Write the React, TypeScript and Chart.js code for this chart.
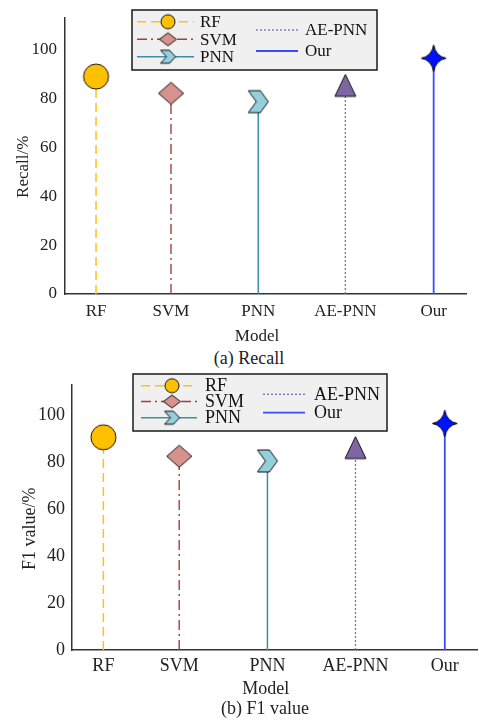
import React, { useEffect, useRef } from "react";
import { Chart, registerables } from "chart.js";

Chart.register(...registerables);

// ---------- data ----------
const models = ["RF", "SVM", "PNN", "AE-PNN", "Our"];
const modelX = [0.356, 1.216, 2.217, 3.216, 4.229];
const recall = [89.1, 82.2, 78.8, 85.5, 96.6];
const f1Value = [90.7, 82.6, 80.6, 86.3, 96.6];
const yTicks = [0, 20, 40, 60, 80, 100];
const X_MIN = 0;
const X_MAX = 4.6;
const Y_MIN = 0;
const Y_MAX = 113;

// ---------- styles ----------
const SERIF = '"Liberation Serif", "Times New Roman", serif';
const INK = "#222222";
const NB = "\u00A0";

type MarkerKind = "circle" | "diamond" | "chevron" | "triangle" | "star4";

const STYLES: {
  line: string; dash: number[]; width: number; marker: MarkerKind; fill: string;
  mw: number; mh: number; lw: number; lh: number;
}[] = [
  { line: "#FFC20E", dash: [9, 5], width: 1.5, marker: "circle", fill: "#FFC000", mw: 25, mh: 25, lw: 14, lh: 14 },
  { line: "#A33F3B", dash: [10, 4, 2, 4], width: 1.4, marker: "diamond", fill: "#D8928E", mw: 25, mh: 22, lw: 17, lh: 13 },
  { line: "#3E8FA3", dash: [], width: 1.5, marker: "chevron", fill: "#94D0DC", mw: 20, mh: 22, lw: 15, lh: 13 },
  { line: "#7B6BB5", dash: [2, 2], width: 1.3, marker: "triangle", fill: "#7D66A3", mw: 21, mh: 22, lw: 0, lh: 0 },
  { line: "#3B4BFF", dash: [], width: 1.8, marker: "star4", fill: "#0011FF", mw: 25, mh: 27, lw: 0, lh: 0 },
];

function makeMarker(kind: MarkerKind, w: number, h: number, fill: string): HTMLCanvasElement {
  const pad = 2;
  const c = document.createElement("canvas");
  c.width = Math.ceil(w + pad * 2);
  c.height = Math.ceil(h + pad * 2);
  const ctx = c.getContext("2d")!;
  const cx = c.width / 2;
  const cy = c.height / 2;
  const rx = w / 2;
  const ry = h / 2;
  const P = (px: number, py: number) => [cx + px * rx, cy + py * ry] as [number, number];
  ctx.beginPath();
  const poly = (pts: [number, number][]) => {
    pts.forEach(([px, py], i) => {
      const [X, Y] = P(px, py);
      if (i === 0) ctx.moveTo(X, Y);
      else ctx.lineTo(X, Y);
    });
    ctx.closePath();
  };
  switch (kind) {
    case "circle":
      ctx.ellipse(cx, cy, rx, ry, 0, 0, Math.PI * 2);
      break;
    case "diamond":
      poly([[-1, 0], [0, -1], [1, 0], [0, 1]]);
      break;
    case "chevron":
      poly([[-1, -1], [0.2, -1], [1, 0], [0.2, 1], [-1, 1], [-0.2, 0]]);
      break;
    case "triangle":
      poly([[0, -1], [1, 1], [-1, 1]]);
      break;
    case "star4": {
      const k = 0.15;
      const [tx, ty] = P(0, -1);
      ctx.moveTo(tx, ty);
      const seq: [number, number, number, number][] = [
        [k, -k, 1, 0],
        [k, k, 0, 1],
        [-k, k, -1, 0],
        [-k, -k, 0, -1],
      ];
      seq.forEach(([qx, qy, ex, ey]) => {
        const [QX, QY] = P(qx, qy);
        const [EX, EY] = P(ex, ey);
        ctx.quadraticCurveTo(QX, QY, EX, EY);
      });
      ctx.closePath();
      break;
    }
  }
  ctx.fillStyle = fill;
  ctx.fill();
  ctx.lineWidth = 1;
  ctx.strokeStyle = "#111111";
  ctx.lineJoin = "miter";
  ctx.stroke();
  return c;
}

type LegendLayout = {
  box: { x: number; y: number; w: number; h: number };
  col1: { x1: number; x2: number; mx: number; tx: number; rows: number[] };
  col2: { x1: number; x2: number; mx: number; tx: number; rows: number[] };
};

function legendPlugin(L: LegendLayout, fs: number) {
  return {
    id: "stemLegend",
    afterDraw(chart: any) {
      const ctx: CanvasRenderingContext2D = chart.ctx;
      ctx.save();
      ctx.fillStyle = "#F0F0F0";
      ctx.fillRect(L.box.x, L.box.y, L.box.w, L.box.h);
      ctx.lineWidth = 1.5;
      ctx.strokeStyle = "#1a1a1a";
      ctx.strokeRect(L.box.x, L.box.y, L.box.w, L.box.h);
      chart.data.datasets.forEach((ds: any, i: number) => {
        const col = i < 3 ? L.col1 : L.col2;
        const y = col.rows[i < 3 ? i : i - 3];
        ctx.setLineDash(ds.borderDash || []);
        ctx.strokeStyle = ds.borderColor;
        ctx.lineWidth = ds.borderWidth;
        ctx.beginPath();
        ctx.moveTo(col.x1, y);
        ctx.lineTo(col.x2, y);
        ctx.stroke();
        ctx.setLineDash([]);
        const m: HTMLCanvasElement | null = ds.legendMarker;
        if (m) ctx.drawImage(m, col.mx - m.width / 2, y - m.height / 2);
        ctx.fillStyle = "#111111";
        ctx.font = `${fs}px ${SERIF}`;
        ctx.textBaseline = "middle";
        ctx.textAlign = "left";
        ctx.fillText(ds.label, col.tx, y + 1);
      });
      ctx.restore();
    },
  };
}

type Panel = {
  values: number[]; yTitle: string; caption: string; top: number; width: number; height: number;
  fs: number; padTop: number; padRight: number; yAxisW: number; xAxisH: number;
  yTickPad: number; xTickPad: number; yTitlePadTop: number; xTitlePadBottom: number;
  legend: LegendLayout; captionX: number; captionTop: number; captionFs: number;
};

const PANELS: Panel[] = [
  {
    values: recall, yTitle: "Recall/%" + NB.repeat(5), caption: "(a) Recall",
    top: 0, width: 479, height: 348, fs: 17, padTop: 15, padRight: 13, yAxisW: 65, xAxisH: 54,
    yTickPad: 8, xTickPad: 7, yTitlePadTop: 13, xTitlePadBottom: 1.3,
    legend: {
      box: { x: 132, y: 10, w: 245, h: 60 },
      col1: { x1: 137, x2: 194, mx: 168, tx: 200, rows: [21.7, 39.3, 56.7] },
      col2: { x1: 256, x2: 298, mx: 277, tx: 305, rows: [30, 51] },
    },
    captionX: 249, captionTop: 349.2, captionFs: 18,
  },
  {
    values: f1Value, yTitle: "F1 value/%" + NB.repeat(5), caption: "(b) F1 value",
    top: 360, width: 490, height: 342, fs: 18, padTop: 25, padRight: 5, yAxisW: 72, xAxisH: 52,
    yTickPad: 7, xTickPad: 5, yTitlePadTop: 19, xTitlePadBottom: 2.3,
    legend: {
      box: { x: 133, y: 14, w: 254, h: 57 },
      col1: { x1: 141, x2: 197, mx: 172, tx: 205, rows: [25.7, 41.5, 57.7] },
      col2: { x1: 263, x2: 305, mx: 284, tx: 314, rows: [34.3, 52.7] },
    },
    captionX: 265, captionTop: 699.2, captionFs: 18,
  },
];

function StemPanel({ panel }: { panel: Panel }) {
  const ref = useRef<HTMLCanvasElement>(null);
  useEffect(() => {
    const canvas = ref.current!;
    const datasets = models.map((name, i) => {
      const st = STYLES[i];
      const marker = makeMarker(st.marker, st.mw, st.mh, st.fill);
      const legendMarker = st.lw ? makeMarker(st.marker, st.lw, st.lh, st.fill) : null;
      return {
        label: name,
        data: [
          { x: modelX[i], y: 0 },
          { x: modelX[i], y: panel.values[i] },
        ],
        borderColor: st.line,
        borderWidth: st.width,
        borderDash: st.dash,
        pointStyle: marker,
        pointRadius: [0, st.mw / 2],
        pointHoverRadius: [0, st.mw / 2],
        pointBorderWidth: 0,
        fill: false,
        tension: 0,
        clip: false as any,
        legendMarker,
      };
    });
    const font = { family: SERIF, size: panel.fs, lineHeight: 1.2 };
    const chart = new Chart(canvas, {
      type: "line",
      data: { datasets: datasets as any },
      options: {
        responsive: false,
        animation: false,
        events: [],
        layout: { padding: { top: panel.padTop, right: panel.padRight, left: 0, bottom: 0 } },
        plugins: { legend: { display: false }, tooltip: { enabled: false } },
        scales: {
          x: {
            type: "linear",
            min: X_MIN,
            max: X_MAX,
            grid: { display: false, drawTicks: false },
            border: { display: true, color: "#333333", width: 1.5 },
            afterBuildTicks: (s: any) => {
              s.ticks = modelX.map((v) => ({ value: v }));
            },
            afterFit: (s: any) => {
              s.height = panel.xAxisH;
            },
            ticks: {
              autoSkip: false,
              maxRotation: 0,
              padding: panel.xTickPad,
              color: INK,
              font,
              callback: (_v: any, i: number) => models[i],
            },
            title: {
              display: true,
              text: "Model" + NB.repeat(4),
              color: INK,
              font,
              padding: { top: 0, bottom: panel.xTitlePadBottom },
            },
          },
          y: {
            type: "linear",
            min: Y_MIN,
            max: Y_MAX,
            grid: { display: false, drawTicks: false },
            border: { display: true, color: "#333333", width: 1.5 },
            afterBuildTicks: (s: any) => {
              s.ticks = yTicks.map((v) => ({ value: v }));
            },
            afterFit: (s: any) => {
              s.width = panel.yAxisW;
            },
            ticks: { padding: panel.yTickPad, color: INK, font },
            title: {
              display: true,
              text: panel.yTitle,
              color: INK,
              font,
              padding: { top: panel.yTitlePadTop, bottom: 0 },
            },
          },
        },
      } as any,
      plugins: [legendPlugin(panel.legend, panel.fs) as any],
    });
    return () => chart.destroy();
  }, [panel]);
  return (
    <>
      <canvas
        ref={ref}
        width={panel.width}
        height={panel.height}
        style={{ position: "absolute", left: 0, top: panel.top, width: panel.width, height: panel.height, display: "block" }}
      />
      <div
        style={{
          position: "absolute",
          left: panel.captionX - 150,
          width: 300,
          top: panel.captionTop,
          textAlign: "center",
          fontFamily: SERIF,
          fontSize: panel.captionFs,
          lineHeight: `${panel.captionFs}px`,
          color: INK,
          whiteSpace: "nowrap",
        }}
      >
        {panel.caption}
      </div>
    </>
  );
}

export default function App() {
  return (
    <div
      style={{
        position: "fixed",
        left: 0,
        top: 0,
        width: 479,
        height: 721,
        overflow: "hidden",
        background: "#ffffff",
      }}
    >
      {PANELS.map((p, i) => (
        <StemPanel key={i} panel={p} />
      ))}
    </div>
  );
}
